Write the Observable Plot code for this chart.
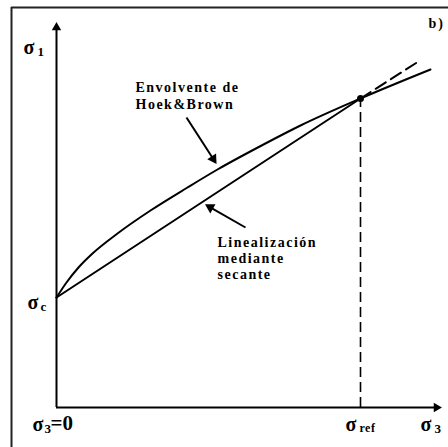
<!DOCTYPE html>
<html><head><meta charset="utf-8">
<script src="https://cdn.jsdelivr.net/npm/d3@7"></script>
<script src="https://cdn.jsdelivr.net/npm/@observablehq/plot@0.6"></script>
<style>body{margin:0;background:#fff}</style>
</head><body><div id="chart"></div>
<script>
// Hoek & Brown envelope (σ3, σ1) (arbitrary units)
const envelopeSigma3 = [0, 10, 22, 36, 61, 94, 131, 161, 207, 244, 304, 374];
const envelopeSigma1 = [110, 125, 140, 154, 174, 197, 220, 238, 263, 282, 309, 338];
// Secant linearisation and its dashed extension
const secantSigma3 = [0, 304];
const secantSigma1 = [110, 309];
const extensionSigma3 = [304, 362];
const extensionSigma1 = [309, 346];
const sigmaC = 110, sigmaRef = 304, sigma1Ref = 309;
// Pointer arrows (tail → tip) for the two annotations
const pointerTail3 = [130, 189];
const pointerTail1 = [290, 180];
const pointerTip3 = [161, 147];
const pointerTip1 = [242, 204];
// Texts
const envelopeLabel = "Envolvente de\nHoek&Brown";
const secantLabel = "Linealización\nmediante\nsecante";
const panelLabel = "b)";

const envelope = envelopeSigma3.map((x, i) => ({x, y: envelopeSigma1[i]}));
const secant = secantSigma3.map((x, i) => ({x, y: secantSigma1[i]}));
const extension = extensionSigma3.map((x, i) => ({x, y: extensionSigma1[i]}));
const headR = 5;
const headOff = 2 * Math.sqrt(Math.PI * headR * headR / (3 * Math.sqrt(3)));
const pointers = pointerTail3.map((x1, i) => {
  const x2 = pointerTip3[i], y1 = pointerTail1[i], y2 = pointerTip1[i];
  const dx = x2 - x1, dy = y2 - y1, L = Math.hypot(dx, dy);
  return {x1, y1, x2, y2,
    hx: x2 - headOff * dx / L, hy: y2 - headOff * dy / L,
    angle: Math.atan2(dx, dy) * 180 / Math.PI};
});

const font = "Liberation Serif";
const T = (text, x, y, size, anchor = "start") =>
  Plot.text([text], {x: () => x, y: () => y, text: d => d, fontSize: size, fontWeight: "bold",
    fontFamily: font, textAnchor: anchor, fill: "black"});

const plot = Plot.plot({
  width: 448, height: 447, margin: 0,
  x: {domain: [-56, 392], axis: null},
  y: {domain: [-40, 407], axis: null},
  marks: [
    // frame
    Plot.ruleX([-45], {y1: -40, y2: 400, stroke: "#222", strokeWidth: 2}),
    Plot.ruleY([400], {x1: -45, x2: 392, stroke: "#222", strokeWidth: 2}),
    // axes
    Plot.ruleX([0], {y1: 0, y2: 381, stroke: "black", strokeWidth: 2}),
    Plot.ruleY([0], {x1: 0, x2: 381, stroke: "black", strokeWidth: 2}),
    Plot.dot([0], {x: () => 0, y: () => 380, symbol: "triangle2", r: 4.5, fill: "black", stroke: "none"}),
    Plot.dot([0], {x: () => 380, y: () => 0, symbol: "triangle2", r: 4.5, fill: "black", stroke: "none", rotate: 90}),
    // curves
    Plot.line(envelope, {x: "x", y: "y", curve: "monotone-x", stroke: "black", strokeWidth: 2}),
    Plot.line(secant, {x: "x", y: "y", stroke: "black", strokeWidth: 2}),
    Plot.line(extension, {x: "x", y: "y", stroke: "black", strokeWidth: 2, strokeDasharray: "12,6"}),
    Plot.ruleX([sigmaRef], {y1: 0, y2: sigma1Ref, stroke: "black", strokeWidth: 1.6, strokeDasharray: "10,5"}),
    Plot.dot([0], {x: () => sigmaRef, y: () => sigma1Ref, r: 3.5, fill: "black"}),
    // pointers
    Plot.link(pointers, {x1: "x1", y1: "y1", x2: "hx", y2: "hy", stroke: "black", strokeWidth: 2}),
    Plot.dot(pointers, {x: "hx", y: "hy", symbol: "triangle2", r: headR, rotate: "angle", fill: "black", stroke: "none"}),
    // labels
    Plot.text([envelopeLabel], {x: () => 79, y: () => 327, text: d => d, fontSize: 14, fontWeight: "bold", fontFamily: font, textAnchor: "start", lineAnchor: "top", lineHeight: 1.2}),
    Plot.text([secantLabel], {x: () => 161, y: () => 172, text: d => d, fontSize: 14, fontWeight: "bold", fontFamily: font, textAnchor: "start", lineAnchor: "top", lineHeight: 1.15}),
    T(panelLabel, 372, 384, 14),
    T("σ", -33, 360, 20), T("1", -19, 356, 13),
    T("σ", -29, sigmaC - 5, 20), T("c", -16, sigmaC - 9, 13),
    T("σ", -24, -17, 20), T("3", -12, -21, 13), T("=0", -6, -16, 21),
    T("σ", sigmaRef - 15, -17, 20), T("ref", sigmaRef - 1, -21, 12),
    T("σ", 364, -17, 20), T("3", 378, -21, 13)
  ]
});
d3.select(plot).selectAll("text").each(function() {
  const t = this.textContent;
  if (t.includes("Envolvente") || t.includes("Lineal")) this.setAttribute("letter-spacing", "1.5");
  if (t === "ref") this.setAttribute("letter-spacing", "0.5");
  if (t === "b)") this.setAttribute("letter-spacing", "2");
});
document.getElementById("chart").append(plot);
</script>
</body></html>
